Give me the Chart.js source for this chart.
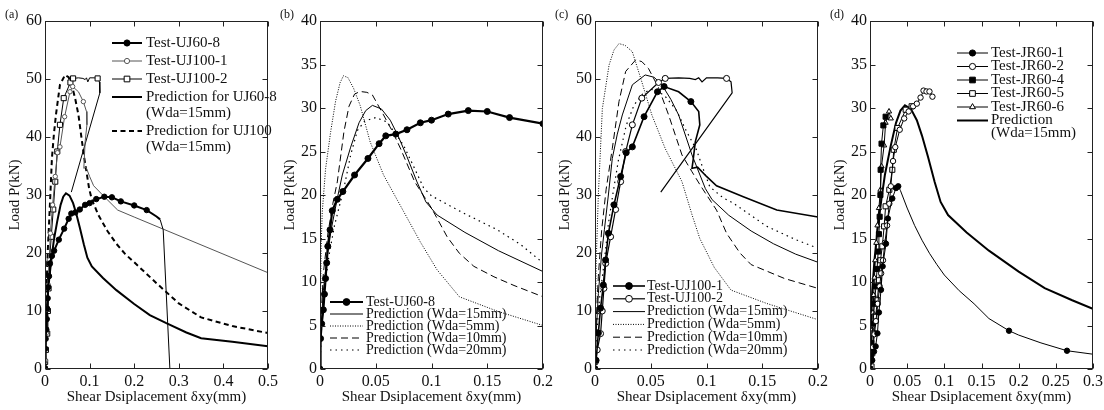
<!DOCTYPE html>
<html>
<head>
<meta charset="utf-8">
<script src="https://cdn.jsdelivr.net/npm/chart.js@4/dist/chart.umd.min.js"></script>
<style>
  html, body { margin: 0; padding: 0; background: #fff; }
  #wrap { position: relative; width: 1104px; height: 410px; overflow: hidden; }
  .panel { position: absolute; top: 0; width: 287px; height: 410px; }
</style>
</head>
<body>
<div id="wrap">
  <div class="panel" style="left:0px"><canvas id="pa" width="287" height="410"></canvas></div>
  <div class="panel" style="left:275px"><canvas id="pb" width="287" height="410"></canvas></div>
  <div class="panel" style="left:550px"><canvas id="pc" width="287" height="410"></canvas></div>
  <div class="panel" style="left:825px"><canvas id="pd" width="287" height="410"></canvas></div>
</div>
<script>
const FONT = "'Liberation Serif', 'Times New Roman', serif";
Chart.defaults.font.family = FONT;
Chart.defaults.color = "#111";

// ---- data: [shear displacement (mm), load (kN)] ----
const testUJ60_8 = [[0,0],[0.0005,3.5],[0.0015,5.2],[0.003,6.8],[0.004,8.6],[0.005,10.4],[0.006,12.2],[0.007,14.1],[0.009,16],[0.011,18.2],[0.0155,19.5],[0.0205,20.4],[0.031,22.3],[0.043,24.2],[0.053,25.9],[0.059,26.8],[0.068,27],[0.078,27.5],[0.09,28.3],[0.1,28.6],[0.115,29.3],[0.133,29.7],[0.15,29.6],[0.17,28.9],[0.2,28.2],[0.228,27.4],[0.25,26.3],[0.258,25.8],[0.265,24],[0.28,0]];
const testUJ100_1 = [[0,0],[0.001,1.5],[0.003,6.2],[0.005,10.5],[0.0075,14.5],[0.0095,18.8],[0.012,23.4],[0.017,28.3],[0.023,33.2],[0.028,37.3],[0.0335,38.3],[0.044,43.5],[0.056,47.8],[0.062,48.7],[0.075,47.8],[0.086,46.1],[0.093,44.4],[0.094,42.1],[0.09,39.2],[0.088,36],[0.087,34.6],[0.092,34.8],[0.1,33.2],[0.109,31.6],[0.133,29.7],[0.163,27.4],[0.2,26.2],[0.5,16.6]];
const testUJ100_2 = [[0,0],[0.0003,1.2],[0.002,3.3],[0.005,6.1],[0.0065,10],[0.008,13.9],[0.0096,18.2],[0.014,22.8],[0.0185,27.5],[0.023,32.3],[0.0275,37.5],[0.0335,42.1],[0.042,46.7],[0.057,49.4],[0.063,50.1],[0.075,50.2],[0.085,50.1],[0.09,49.9],[0.093,50.2],[0.096,49.5],[0.1,50.2],[0.11,50.2],[0.118,50.1],[0.122,49.5],[0.123,47.6],[0.059,30.5]];
const predUJ60 = [[0,0],[0.001,5],[0.003,9],[0.006,12.5],[0.01,16],[0.0155,19.6],[0.02,22.3],[0.0275,25.5],[0.035,28.3],[0.041,29.7],[0.047,30.3],[0.055,29.9],[0.063,28.6],[0.07,26.8],[0.078,24.4],[0.087,21.5],[0.095,19.2],[0.105,17.7],[0.13,15.7],[0.16,13.6],[0.2,11.2],[0.235,9.3],[0.272,7.9],[0.317,6.3],[0.35,5.3],[0.42,4.7],[0.5,3.9]];
const predUJ100 = [[0,0],[0.001,6],[0.003,13],[0.006,20],[0.0084,24],[0.012,30],[0.0155,36.3],[0.02,40.5],[0.0245,43.8],[0.0335,49],[0.045,50.7],[0.053,50.3],[0.06,49],[0.068,46.5],[0.075,43.8],[0.087,36.9],[0.099,31.1],[0.105,29.2],[0.12,26.5],[0.14,23.8],[0.16,21.6],[0.18,19.8],[0.2,18.4],[0.25,14.8],[0.3,11.3],[0.35,8.9],[0.42,7.4],[0.5,6.2]];

const bPred5 = [[0,0],[0.0005,8],[0.001,14],[0.002,18],[0.005,23],[0.0096,27.3],[0.014,30.8],[0.018,32.9],[0.021,33.7],[0.025,33.5],[0.03,32.3],[0.036,30.3],[0.045,26.1],[0.057,22.3],[0.075,18.1],[0.09,14.6],[0.105,11.4],[0.125,8.3],[0.16,6.6],[0.2,5.0]];
const bPred10 = [[0,0],[0.001,6],[0.003,11],[0.007,15.5],[0.0115,19],[0.0155,21.5],[0.0215,27.3],[0.026,30.2],[0.031,31.6],[0.036,31.9],[0.042,31.8],[0.047,31.5],[0.057,29.2],[0.065,27.3],[0.072,25.4],[0.085,21.5],[0.1,18.5],[0.114,15.2],[0.125,13.3],[0.138,11.8],[0.156,10.6],[0.174,9.6],[0.2,8.3]];
const bPred20 = [[0,0],[0.001,4],[0.004,9],[0.008,13],[0.013,16.5],[0.0215,20.8],[0.0275,24.6],[0.0335,27.4],[0.04,28.5],[0.05,28.9],[0.06,28.4],[0.068,27],[0.075,25.7],[0.085,23],[0.093,20.8],[0.1,19.9],[0.129,17.9],[0.159,16],[0.18,14.3],[0.2,12.2]];

const cPred5 = [[0,0],[0.0005,10],[0.001,18],[0.003,30],[0.0066,44.9],[0.0126,52.4],[0.017,55],[0.0215,56.1],[0.027,55.8],[0.0335,54.7],[0.042,49.5],[0.051,43.8],[0.063,38],[0.078,32.3],[0.087,26.6],[0.094,22.5],[0.107,17.5],[0.122,13.6],[0.154,11.3],[0.2,8.5]];
const cPred10 = [[0,0],[0.001,8],[0.003,16],[0.006,24],[0.01,31],[0.0155,38],[0.0215,46.1],[0.0275,51.3],[0.0365,53.3],[0.042,53],[0.048,51.8],[0.057,48.5],[0.066,43.8],[0.078,36.9],[0.087,34],[0.095,31.5],[0.109,27.4],[0.118,23.4],[0.13,20],[0.14,18],[0.155,16.8],[0.17,15.6],[0.2,13.9]];
const cPred20 = [[0,0],[0.001,5],[0.004,12],[0.008,18],[0.012,25],[0.0159,30],[0.021,36],[0.028,42],[0.035,45.5],[0.043,47.5],[0.05,48.2],[0.055,48.1],[0.063,47],[0.073,44.6],[0.082,41],[0.091,37.8],[0.097,34.5],[0.103,31.4],[0.115,29.5],[0.124,28.6],[0.154,24.6],[0.18,22.3],[0.2,20.8]];

const testJR60_1 = [[0,0],[0.003,1],[0.0054,2],[0.0076,2.6],[0.01,4.1],[0.012,6.5],[0.0148,9.1],[0.017,11.8],[0.0215,14.4],[0.024,17.3],[0.03,19.6],[0.035,20.8],[0.038,21],[0.041,20.5],[0.05,18.5],[0.06,16.5],[0.07,14.8],[0.08,13.3],[0.09,12],[0.1,10.8],[0.12,9],[0.14,7.5],[0.16,5.8],[0.187,4.4],[0.2,3.9],[0.23,3],[0.265,2.1],[0.3,1.7]];
const testJR60_2 = [[0,0],[0.002,1],[0.004,2.5],[0.006,4],[0.008,5.5],[0.0105,7.5],[0.013,9.5],[0.015,11],[0.0175,12.5],[0.02,14.5],[0.023,16.5],[0.026,19],[0.028,21],[0.031,23.9],[0.034,25.5],[0.04,27.5],[0.046,28.8],[0.052,29.6],[0.058,30.2],[0.063,30.5],[0.068,31.2],[0.072,32],[0.076,31.9],[0.08,31.9],[0.084,31.3]];
const testJR60_4 = [[0,0],[0.001,1.5],[0.002,3],[0.004,5.2],[0.006,7.5],[0.008,9.5],[0.0095,11.5],[0.011,13.5],[0.012,15.5],[0.013,17.5],[0.014,20],[0.0143,22.9],[0.0155,25.9],[0.018,28],[0.021,29]];
const testJR60_5 = [[0,0],[0.002,0.3],[0.003,1.8],[0.005,4.1],[0.0075,6],[0.01,7.9],[0.012,10.2],[0.014,12.5],[0.0166,14.1],[0.019,16.4],[0.021,18.7],[0.026,20.6],[0.03,22.9],[0.032,25.2],[0.037,27.7],[0.048,29.8],[0.056,30.2]];
const testJR60_6 = [[0,0],[0.001,1.5],[0.002,3],[0.003,4.5],[0.004,6.5],[0.005,8.5],[0.006,10.5],[0.007,12.5],[0.0085,14.5],[0.01,16.5],[0.012,18.5],[0.014,20.6],[0.0155,23.3],[0.019,25.7],[0.021,28.3],[0.0256,29.6],[0.028,28.8]];

// tick values
const xTicksA = [0, 0.1, 0.2, 0.3, 0.4, 0.5];
const yTicksA = [0, 10, 20, 30, 40, 50, 60];
const xTicksB = [0, 0.05, 0.1, 0.15, 0.2];
const yTicksB = [0, 5, 10, 15, 20, 25, 30, 35, 40];
const xTicksD = [0, 0.05, 0.1, 0.15, 0.2, 0.25, 0.3];

// ---- helpers ----
function first(n) { return Array.from({ length: n }, (_, i) => i); }
const fmt = v => String(Math.round(v * 1000) / 1000);

function series(s) {
  const marked = s.marks ? new Set(s.marks) : null;
  const ds = {
    label: s.label || "",
    data: s.data.map(([x, y]) => ({ x, y })),
    showLine: true,
    tension: 0,
    fill: false,
    borderColor: s.color || "#000",
    borderWidth: s.width,
    borderDash: s.dash || [],
    pointStyle: s.point || "circle",
    pointRadius: s.point ? (c => (!marked || marked.has(c.dataIndex) ? s.r : 0)) : 0,
    pointBackgroundColor: s.face || "#000",
    pointBorderColor: s.color || "#000",
    pointBorderWidth: 1,
    keyMarker: !!s.point,
    keyR: s.r
  };
  if (s.thinFrom) {
    ds.segment = { borderWidth: c => (c.p0DataIndex >= s.thinFrom ? 1 : s.width) };
  }
  return ds;
}

// box and inward tick marks on all four sides
const framePlugin = {
  id: "frame",
  afterDatasetsDraw(chart) {
    const { ctx, chartArea: a, scales } = chart;
    const L = Math.round(a.left) + 0.5, R = Math.round(a.right) - 0.5;
    const T = Math.round(a.top) + 0.5, B = Math.round(a.bottom) - 0.5;
    ctx.save();
    ctx.strokeStyle = "#222";
    ctx.lineWidth = 1;
    ctx.strokeRect(L, T, R - L, B - T);
    ctx.beginPath();
    scales.x.ticks.forEach(t => {
      const px = Math.round(scales.x.getPixelForValue(t.value)) + 0.5;
      ctx.moveTo(px, B); ctx.lineTo(px, B - 5);
      ctx.moveTo(px, T); ctx.lineTo(px, T + 5);
    });
    scales.y.ticks.forEach(t => {
      const py = Math.round(scales.y.getPixelForValue(t.value)) + 0.5;
      ctx.moveTo(L, py); ctx.lineTo(L + 5, py);
      ctx.moveTo(R, py); ctx.lineTo(R - 5, py);
    });
    ctx.stroke();
    ctx.restore();
  }
};

// hand-placed key like the original figure
const keyPlugin = {
  id: "key",
  afterDraw(chart, args, opts) {
    if (!opts || opts.y0 === undefined) return;
    const ctx = chart.ctx;
    let y = opts.y0;
    chart.data.datasets.forEach(ds => {
      if (!ds.label) return;
      const lines = ds.label.split("\n");
      ctx.save();
      ctx.strokeStyle = ds.borderColor;
      ctx.lineWidth = ds.borderWidth;
      ctx.setLineDash(ds.borderDash || []);
      ctx.beginPath();
      ctx.moveTo(opts.x0, y);
      ctx.lineTo(opts.x1, y);
      ctx.stroke();
      ctx.setLineDash([]);
      if (ds.keyMarker && Chart.helpers && Chart.helpers.drawPoint) {
        ctx.fillStyle = ds.pointBackgroundColor;
        ctx.strokeStyle = ds.pointBorderColor;
        ctx.lineWidth = 1;
        Chart.helpers.drawPoint(ctx, { pointStyle: ds.pointStyle, radius: ds.keyR + 0.4, borderWidth: 1, rotation: 0 },
          (opts.x0 + opts.x1) / 2, y);
      }
      ctx.fillStyle = "#111";
      ctx.font = opts.size + "px " + FONT;
      ctx.textBaseline = "middle";
      ctx.textAlign = "left";
      lines.forEach((s, i) => ctx.fillText(s, opts.tx, y + i * opts.wrap));
      ctx.restore();
      y += opts.step + (lines.length - 1) * opts.wrap;
    });
  }
};

const tagPlugin = {
  id: "tag",
  afterDraw(chart, args, opts) {
    if (!opts || !opts.text) return;
    const ctx = chart.ctx;
    ctx.save();
    ctx.font = "12px " + FONT;
    ctx.fillStyle = "#111";
    ctx.textBaseline = "middle";
    ctx.fillText(opts.text, 5, 15);
    ctx.restore();
  }
};

function makePanel(id, P) {
  new Chart(document.getElementById(id), {
    type: "scatter",
    data: { datasets: P.series.map(series) },
    plugins: [framePlugin, keyPlugin, tagPlugin],
    options: {
      responsive: false,
      devicePixelRatio: 1,
      animation: false,
      events: [],
      layout: { padding: { left: 0, right: 19, top: 21, bottom: 0 } },
      plugins: {
        legend: { display: false },
        tooltip: { enabled: false },
        key: P.key,
        tag: { text: P.tag }
      },
      scales: {
        x: {
          type: "linear", min: 0, max: P.xMax,
          grid: { display: false, drawTicks: false },
          border: { display: false },
          afterBuildTicks: s => { s.ticks = P.xTicks.map(v => ({ value: v })); },
          afterFit: s => { s.height = 41; },
          ticks: { font: { size: 16 }, padding: 3, maxRotation: 0, autoSkip: false, color: "#111", callback: v => fmt(v) },
          title: { display: true, text: "Shear Dsiplacement δxy(mm)", font: { size: 15 }, color: "#111", padding: { top: 0, bottom: 4 } }
        },
        y: {
          type: "linear", min: 0, max: P.yMax,
          grid: { display: false, drawTicks: false },
          border: { display: false },
          afterBuildTicks: s => { s.ticks = P.yTicks.map(v => ({ value: v })); },
          afterFit: s => { s.width = 45; },
          ticks: { font: { size: 16 }, padding: 3, autoSkip: false, color: "#111", callback: v => fmt(v) },
          title: { display: true, text: "Load P(kN)", font: { size: 15 }, color: "#111", padding: { top: 6, bottom: 0 } }
        }
      }
    }
  });
}

// (a)
makePanel("pa", {
  tag: "(a)", xMax: 0.5, yMax: 60, xTicks: xTicksA, yTicks: yTicksA,
  key: { x0: 112, x1: 142, tx: 146, y0: 43, step: 18, wrap: 16, size: 15 },
  series: [
    { label: "Test-UJ60-8", data: testUJ60_8, width: 2, point: "circle", face: "#000", r: 2.7, marks: first(26), thinFrom: 27 },
    { label: "Test-UJ100-1", data: testUJ100_1, width: 1, color: "#555", point: "circle", face: "#fff", r: 2.2, marks: first(14).concat([15]) },
    { label: "Test-UJ100-2", data: testUJ100_2, width: 1, point: "rect", face: "#fff", r: 3.6, marks: first(15).concat([22]) },
    { label: "Prediction for UJ60-8\n(Wda=15mm)", data: predUJ60, width: 2 },
    { label: "Prediction for UJ100\n(Wda=15mm)", data: predUJ100, width: 2, dash: [5, 3.5] }
  ]
});

// (b)
makePanel("pb", {
  tag: "(b)", xMax: 0.2, yMax: 40, xTicks: xTicksB, yTicks: yTicksB,
  key: { x0: 55, x1: 88, tx: 91, y0: 302, step: 12, wrap: 12, size: 14 },
  series: [
    { label: "Test-UJ60-8", data: testUJ60_8, width: 2.2, point: "circle", face: "#000", r: 3, marks: first(26) },
    { label: "Prediction (Wda=15mm)", data: predUJ60, width: 1 },
    { label: "Prediction (Wda=5mm)", data: bPred5, width: 1, dash: [1, 1.5] },
    { label: "Prediction (Wda=10mm)", data: bPred10, width: 1, dash: [7, 4] },
    { label: "Prediction (Wda=20mm)", data: bPred20, width: 1.2, dash: [1.5, 4] }
  ]
});

// (c)
makePanel("pc", {
  tag: "(c)", xMax: 0.2, yMax: 60, xTicks: xTicksB, yTicks: yTicksA,
  key: { x0: 63, x1: 95, tx: 97, y0: 286, step: 12.8, wrap: 12, size: 14 },
  series: [
    { label: "Test-UJ100-1", data: testUJ100_1, width: 1.6, point: "circle", face: "#000", r: 3, marks: first(14).concat([15]) },
    { label: "Test-UJ100-2", data: testUJ100_2, width: 1.2, point: "circle", face: "#fff", r: 3, marks: first(15).concat([22]) },
    { label: "Prediction (Wda=15mm)", data: predUJ100, width: 1 },
    { label: "Prediction (Wda=5mm)", data: cPred5, width: 1, dash: [1, 1.5] },
    { label: "Prediction (Wda=10mm)", data: cPred10, width: 1, dash: [7, 4] },
    { label: "Prediction (Wda=20mm)", data: cPred20, width: 1.2, dash: [1.5, 4] }
  ]
});

// (d)
makePanel("pd", {
  tag: "(d)", xMax: 0.3, yMax: 40, xTicks: xTicksD, yTicks: yTicksB,
  key: { x0: 132, x1: 163, tx: 166, y0: 53, step: 13.5, wrap: 12.5, size: 15 },
  series: [
    { label: "Test-JR60-1", data: testJR60_1, width: 1, point: "circle", face: "#000", r: 2.7, marks: first(13).concat([23, 26]) },
    { label: "Test-JR60-2", data: testJR60_2, width: 1, point: "circle", face: "#fff", r: 2.7 },
    { label: "Test-JR60-4", data: testJR60_4, width: 1, point: "rect", face: "#000", r: 3.6 },
    { label: "Test-JR60-5", data: testJR60_5, width: 1, point: "rect", face: "#fff", r: 3.6 },
    { label: "Test-JR60-6", data: testJR60_6, width: 1, point: "triangle", face: "#fff", r: 3 },
    { label: "Prediction\n(Wda=15mm)", data: predUJ60, width: 2 }
  ]
});
</script>
</body>
</html>
